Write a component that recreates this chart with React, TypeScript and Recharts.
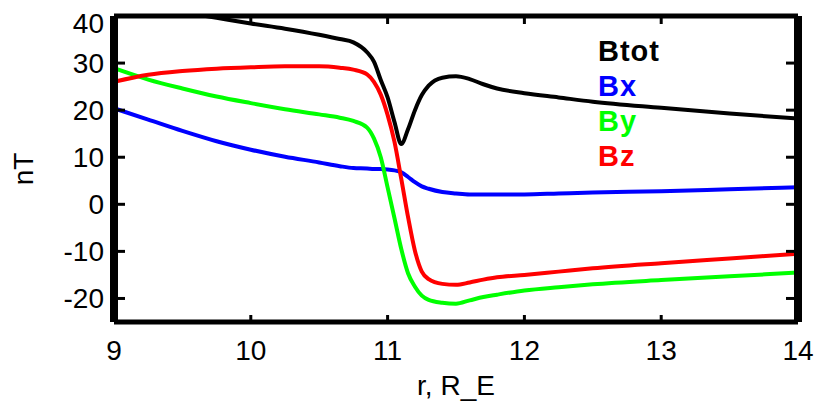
import React from "react";
import { LineChart, Line, XAxis, YAxis, Legend } from "recharts";

const radius = [9.0, 9.25, 9.5, 9.75, 10.0, 10.25, 10.5, 10.65, 10.75, 10.85, 10.9, 10.95, 11.0, 11.05, 11.1, 11.15, 11.2, 11.25, 11.3, 11.4, 11.5, 11.6, 11.7, 11.8, 12.0, 12.25, 12.5, 13.0, 13.5, 14.0];
const btot = [43.5, 42.0, 40.8, 39.6, 38.4, 37.3, 36.0, 35.1, 34.4, 32.3, 30.3, 26.4, 22.7, 17.5, 12.8, 16.0, 20.0, 23.2, 25.2, 26.9, 27.2, 26.6, 25.5, 24.6, 23.6, 22.7, 21.8, 20.5, 19.3, 18.2];
const bx = [20.4, 18.0, 15.6, 13.4, 11.6, 10.1, 8.9, 8.1, 7.7, 7.6, 7.5, 7.5, 7.4, 7.2, 6.8, 5.8, 4.7, 3.8, 3.3, 2.6, 2.3, 2.1, 2.1, 2.1, 2.1, 2.3, 2.5, 2.8, 3.2, 3.6];
const by = [28.9, 26.5, 24.6, 22.9, 21.5, 20.2, 19.1, 18.4, 17.7, 16.3, 14.0, 10.0, 3.6, -2.9, -9.5, -14.7, -17.5, -19.4, -20.3, -20.9, -21.1, -20.4, -19.7, -19.2, -18.3, -17.6, -17.0, -16.1, -15.3, -14.5];
const bz = [26.0, 27.5, 28.3, 28.8, 29.1, 29.3, 29.3, 29.0, 28.6, 27.6, 26.0, 23.3, 19.0, 13.3, 5.4, -2.8, -9.9, -14.3, -15.9, -16.9, -17.1, -16.6, -16.0, -15.5, -15.0, -14.3, -13.6, -12.5, -11.5, -10.5];

const xTicks = [9, 10, 11, 12, 13, 14];
const yTicks = [-20, -10, 0, 10, 20, 30, 40];
const seriesNames = ["Btot", "Bx", "By", "Bz"];
const seriesColors = ["#000000", "#0000ff", "#00ff00", "#ff0000"];

const data = radius.map((r, i) => ({ r, Btot: btot[i], Bx: bx[i], By: by[i], Bz: bz[i] }));

const FONT = '"Liberation Sans", Arial, Helvetica, sans-serif';

const BottomTick = (props: any) => {
  const { x, y, payload } = props;
  return (
    <g>
      <line x1={x} y1={y} x2={x} y2={y - 7} stroke="#000" strokeWidth={3} />
      <text x={x} y={y + 38} textAnchor="middle" fontSize={28} fontFamily={FONT} fill="#000">
        {payload.value}
      </text>
    </g>
  );
};

const TopTick = (props: any) => {
  const { x, y } = props;
  return <line x1={x} y1={y + 1} x2={x} y2={y + 8} stroke="#000" strokeWidth={3} />;
};

const LeftTick = (props: any) => {
  const { x, y, payload } = props;
  // the top label sits a bit lower in the original
  const ty = payload.value === 40 ? y + 17 : y + 10;
  return (
    <g>
      <line x1={x} y1={y} x2={x + 11} y2={y} stroke="#000" strokeWidth={3} />
      <text x={x - 10} y={ty} textAnchor="end" fontSize={28} fontFamily={FONT} fill="#000">
        {payload.value}
      </text>
    </g>
  );
};

const RightTick = (props: any) => {
  const { x, y } = props;
  return <line x1={x - 1} y1={y} x2={x - 12} y2={y} stroke="#000" strokeWidth={3} />;
};

const LegendContent = () => (
  <div style={{ fontFamily: FONT, fontWeight: "bold", fontSize: 29, lineHeight: "35px", letterSpacing: "1px" }}>
    {seriesNames.map((name, i) => (
      <div key={name} style={{ color: seriesColors[i] }}>
        {name}
      </div>
    ))}
  </div>
);

export default function App() {
  return (
    <div style={{ position: "absolute", left: 0, top: 0, background: "#fff" }}>
      <LineChart width={822} height={406} data={data} margin={{ top: 15, right: 23, bottom: 0, left: 0 }}>
        <XAxis
          dataKey="r"
          type="number"
          domain={[9, 14]}
          ticks={xTicks}
          interval={0}
          allowDataOverflow
          height={84}
          tickSize={0}
          tickMargin={0}
          tickLine={false}
          tick={BottomTick}
          axisLine={{ stroke: "#000", strokeWidth: 5 }}
          label={{
            content: (p: any) => {
              const vb = p.viewBox;
              return (
                <text x={vb.x + vb.width / 2} y={395} textAnchor="middle" fontSize={28} fontFamily={FONT} fill="#000">
                  r, R_E
                </text>
              );
            },
          }}
        />
        <XAxis
          xAxisId="top"
          orientation="top"
          dataKey="r"
          type="number"
          domain={[9, 14]}
          ticks={xTicks}
          interval={0}
          allowDataOverflow
          height={1}
          tickSize={0}
          tickMargin={0}
          tickLine={false}
          tick={TopTick}
          axisLine={{ stroke: "#000", strokeWidth: 5 }}
        />
        <YAxis
          type="number"
          domain={[-25, 40]}
          ticks={yTicks}
          interval={0}
          allowDataOverflow
          width={114}
          tickSize={0}
          tickMargin={0}
          tickLine={false}
          tick={LeftTick}
          axisLine={{ stroke: "#000", strokeWidth: 8 }}
          label={{
            content: (p: any) => {
              const vb = p.viewBox;
              const cy = vb.y + vb.height / 2;
              return (
                <text
                  x={33}
                  y={cy}
                  transform={`rotate(-90, 33, ${cy})`}
                  textAnchor="middle"
                  fontSize={28}
                  fontFamily={FONT}
                  fill="#000"
                >
                  nT
                </text>
              );
            },
          }}
        />
        <YAxis
          yAxisId="right"
          orientation="right"
          type="number"
          domain={[-25, 40]}
          ticks={yTicks}
          interval={0}
          allowDataOverflow
          width={1}
          tickSize={0}
          tickMargin={0}
          tickLine={false}
          tick={RightTick}
          axisLine={{ stroke: "#000", strokeWidth: 8 }}
        />
        <Legend
          layout="vertical"
          align="center"
          verticalAlign="middle"
          content={LegendContent}
          wrapperStyle={{ position: "absolute", left: 598, top: 34, width: "auto", height: "auto" }}
        />
        {seriesNames.map((name, i) => (
          <Line
            key={name}
            type="monotone"
            dataKey={name}
            stroke={seriesColors[i]}
            strokeWidth={4}
            dot={false}
            activeDot={false}
            isAnimationActive={false}
          />
        ))}
      </LineChart>
    </div>
  );
}
